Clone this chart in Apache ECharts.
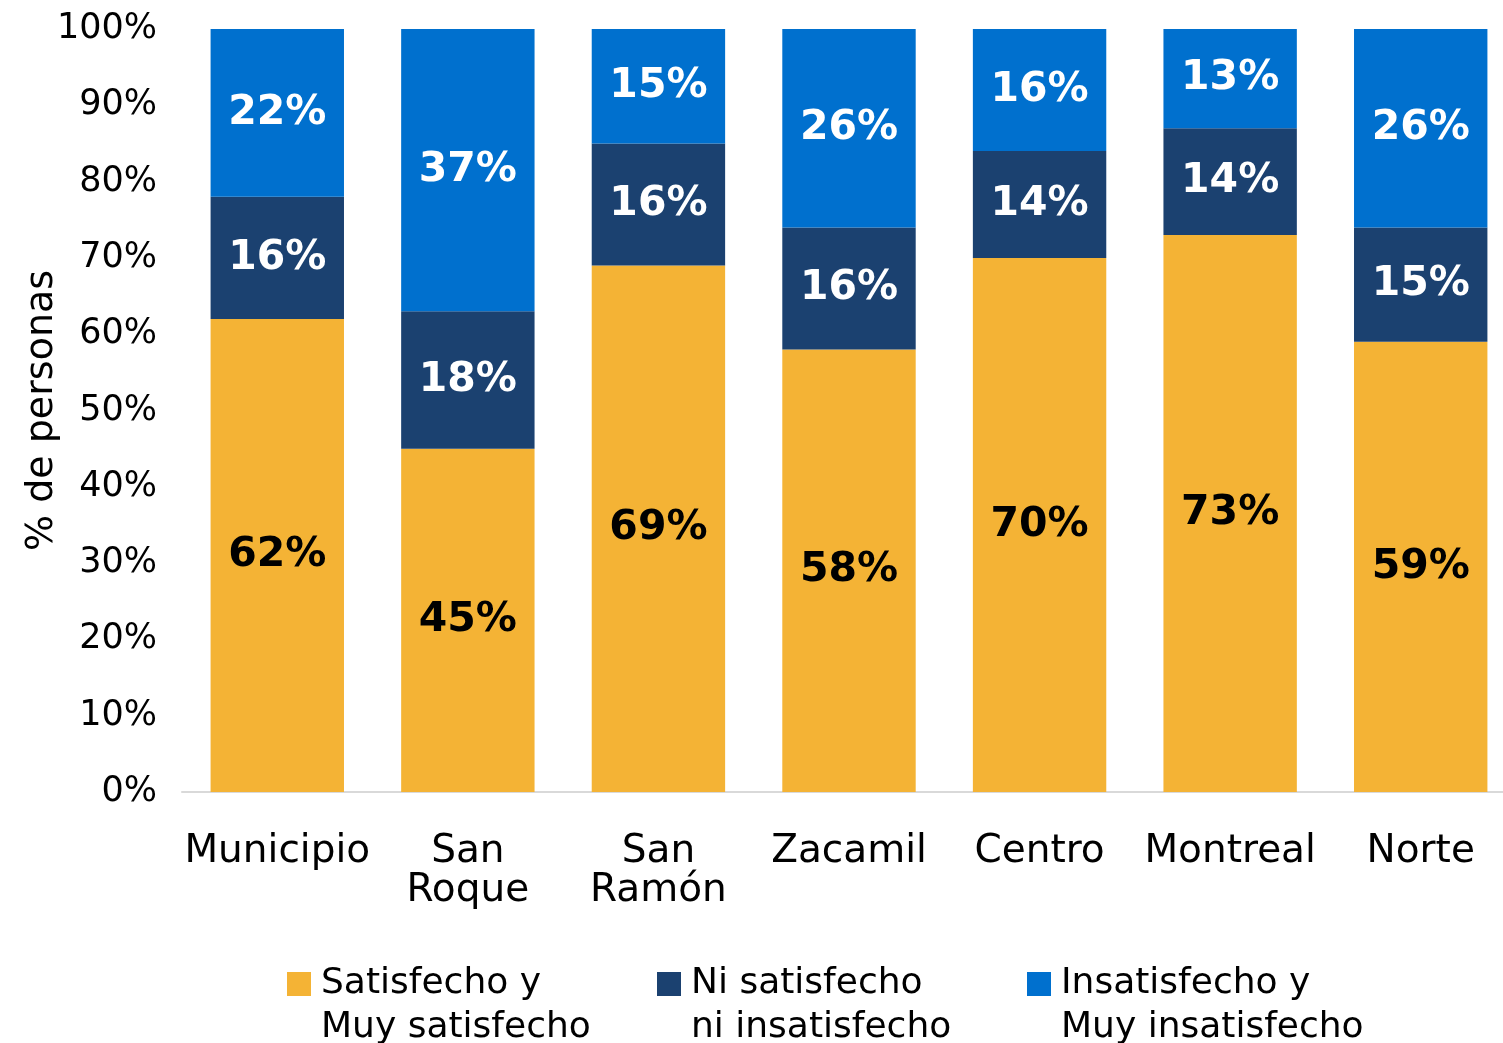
<!DOCTYPE html>
<html>
<head>
<meta charset="utf-8">
<script src="https://cdn.jsdelivr.net/npm/echarts@6/dist/echarts.min.js"></script>
<style>html,body{margin:0;padding:0;background:#fff}#c{width:1503px;height:1043px}</style>
</head>
<body>
<div id="c"></div>
<script>
const categories = ['Municipio', 'San\nRoque', 'San\nRamón', 'Zacamil', 'Centro', 'Montreal', 'Norte'];
const seriesNames = ['Satisfecho y\nMuy satisfecho', 'Ni satisfecho\nni insatisfecho', 'Insatisfecho y\nMuy insatisfecho'];
const satisfecho = [62, 45, 69, 58, 70, 73, 59];
const neutral = [16, 18, 16, 16, 14, 14, 15];
const insatisfecho = [22, 37, 15, 26, 16, 13, 26];
const yTicks = [0, 10, 20, 30, 40, 50, 60, 70, 80, 90, 100];

const FONT = 'DejaVu Sans';
const colors = ['#F4B335', '#1B4170', '#0070CE'];
const labelColors = ['#000000', '#ffffff', '#ffffff'];
const values = [satisfecho, neutral, insatisfecho];

const chart = echarts.init(document.getElementById('c'));
chart.setOption({
  animation: false,
  textStyle: { fontFamily: FONT },
  grid: { left: 182, right: -13, top: 29, bottom: 251, containLabel: false, outerBoundsMode: 'none' },
  xAxis: {
    type: 'category',
    data: categories,
    axisLine: { lineStyle: { color: '#D9D9D9', width: 2 } },
    axisTick: { show: false },
    axisLabel: { color: '#000', fontSize: 39, margin: 40, lineHeight: 39, fontFamily: FONT, interval: 0 }
  },
  yAxis: {
    type: 'value',
    min: 0, max: 100, interval: 10,
    name: '% de personas',
    nameLocation: 'middle',
    nameGap: 121,
    nameRotate: 90,
    nameMoveOverlap: false,
    nameTextStyle: { color: '#000', fontSize: 38, fontFamily: FONT },
    axisLine: { show: false },
    axisTick: { show: false },
    splitLine: { show: false },
    axisLabel: {
      color: '#000', fontSize: 35, margin: 25, fontFamily: FONT,
      formatter: v => yTicks.includes(v) ? v + '%' : ''
    }
  },
  legend: {
    data: seriesNames,
    bottom: -12,
    left: 282,
    itemWidth: 24,
    itemHeight: 24,
    itemGap: 38,
    icon: 'rect',
    formatter: name => ' \n' + name,
    textStyle: { color: '#000', fontSize: 36, lineHeight: 44, padding: [0, 0, 0, 5], width: 298, fontFamily: FONT }
  },
  series: values.map((arr, i) => ({
    name: seriesNames[i],
    type: 'bar',
    stack: 'total',
    barWidth: '70%',
    data: arr,
    itemStyle: { color: colors[i] },
    label: {
      show: true,
      position: 'inside',
      formatter: '{c}%',
      color: labelColors[i],
      fontSize: 41,
      fontWeight: 'bold',
      fontFamily: FONT
    }
  }))
});
</script>
</body>
</html>
